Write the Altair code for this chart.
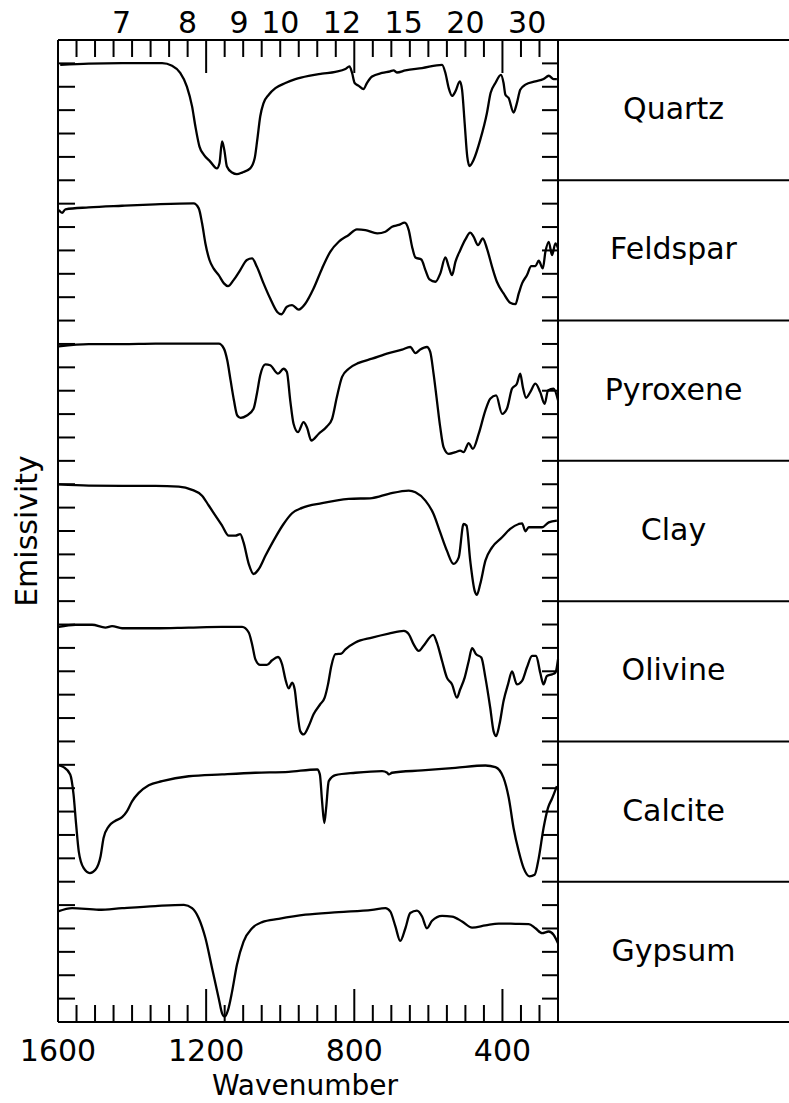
import altair as alt
import pandas as pd

# ---------------- data ----------------
MINERALS = ["Quartz", "Feldspar", "Pyroxene", "Clay", "Olivine", "Calcite", "Gypsum"]

# emissivity values are given in tick units (0..6) inside each mineral's band
QUARTZ_WN = [1594, 1517, 1427, 1319, 1292, 1270, 1252, 1238, 1229, 1218,
             1206, 1189, 1171, 1164, 1157, 1151, 1144, 1130, 1117, 1103,
             1081, 1069, 1062, 1054, 1045, 1031, 1013, 986, 959, 923,
             887, 851, 824, 813, 806, 799, 788, 775, 766, 752,
             725, 703, 694, 685, 662, 617, 563, 554, 545, 536,
             527, 515, 509, 502, 495, 489, 478, 460, 442, 432,
             419, 404, 397, 392, 383, 370, 361, 352, 338, 311,
             289, 275, 262, 253]
QUARTZ_E = [4.94, 4.99, 5.01, 5.01, 4.9, 4.59, 4.01, 3.16, 2.3, 1.44,
            1.09, 0.8, 0.51, 0.73, 1.66, 1.3, 0.59, 0.33, 0.26, 0.33,
            0.51, 0.94, 1.73, 2.73, 3.3, 3.66, 3.94, 4.16, 4.33, 4.47,
            4.56, 4.64, 4.76, 4.87, 4.59, 4.16, 4.04, 3.9, 4.16, 4.44,
            4.59, 4.66, 4.7, 4.61, 4.7, 4.8, 4.94, 4.59, 3.94, 3.61,
            3.8, 4.23, 3.87, 2.44, 1.01, 0.61, 0.87, 1.73, 2.87, 3.73,
            4.16, 4.51, 4.16, 3.66, 3.51, 2.9, 3.3, 3.87, 4.09, 4.23,
            4.33, 4.47, 4.33, 4.33]

FELDSPAR_WN = [1598, 1589, 1580, 1517, 1427, 1337, 1234, 1220, 1211, 1202,
               1191, 1180, 1166, 1152, 1141, 1126, 1108, 1090, 1076, 1063,
               1045, 1027, 1008, 997, 982, 968, 950, 932, 910, 887,
               865, 842, 815, 793, 770, 738, 716, 698, 680, 664,
               653, 644, 635, 619, 608, 597, 581, 568, 554, 545,
               536, 527, 514, 500, 487, 478, 466, 453, 442, 428,
               415, 397, 379, 365, 356, 347, 334, 322, 311, 302,
               291, 284, 275, 266, 257, 250]
FELDSPAR_E = [4.73, 4.61, 4.76, 4.84, 4.91, 4.97, 5.01, 4.8, 4.16, 3.3,
              2.59, 2.23, 1.94, 1.59, 1.47, 1.73, 2.16, 2.59, 2.66, 2.3,
              1.59, 0.94, 0.37, 0.27, 0.59, 0.66, 0.47, 0.73, 1.37, 2.23,
              2.94, 3.37, 3.66, 3.9, 3.87, 3.73, 3.8, 4.01, 4.09, 4.19,
              3.87, 3.16, 2.7, 2.61, 2.16, 1.76, 1.66, 2.01, 2.7, 2.3,
              1.94, 2.51, 3.01, 3.47, 3.76, 3.59, 3.23, 3.51, 3.09, 2.3,
              1.66, 1.16, 0.76, 0.7, 1.16, 1.59, 1.94, 2.33, 2.33, 2.56,
              2.23, 2.94, 3.37, 2.8, 3.3, 3.09]

PYROXENE_WN = [1598, 1517, 1427, 1337, 1166, 1152, 1143, 1134, 1125, 1116,
               1107, 1090, 1072, 1063, 1054, 1040, 1027, 1006, 991, 982,
               973, 964, 952, 937, 928, 916, 896, 874, 860, 847,
               833, 815, 788, 752, 707, 671, 649, 635, 622, 604,
               595, 586, 577, 568, 559, 545, 527, 514, 505, 491,
               480, 464, 446, 433, 417, 401, 388, 374, 361, 352,
               345, 336, 325, 311, 298, 286, 277, 262, 250]
PYROXENE_E = [4.9, 4.99, 4.99, 5.01, 5.01, 4.8, 4.3, 3.44, 2.59, 1.94,
              1.84, 1.94, 2.23, 2.87, 3.66, 4.13, 4.09, 3.73, 3.94, 3.8,
              2.59, 1.59, 1.23, 1.66, 1.44, 0.87, 1.16, 1.47, 1.8, 2.73,
              3.59, 3.94, 4.19, 4.37, 4.61, 4.76, 4.87, 4.61, 4.76, 4.87,
              4.66, 3.73, 2.59, 1.44, 0.59, 0.3, 0.37, 0.44, 0.37, 0.76,
              0.51, 1.16, 2.16, 2.66, 2.8, 2.01, 2.23, 3.09, 3.3, 3.73,
              3.16, 2.7, 2.94, 3.3, 2.94, 2.44, 3.01, 3.09, 2.59]

CLAY_WN = [1598, 1517, 1427, 1337, 1274, 1238, 1211, 1193, 1175, 1157,
           1139, 1121, 1108, 1099, 1085, 1072, 1058, 1040, 1013, 991,
           968, 941, 887, 815, 752, 707, 653, 635, 608, 586,
           568, 550, 532, 518, 505, 497, 487, 475, 469, 460,
           446, 428, 401, 379, 356, 347, 338, 329, 293, 275,
           253]
CLAY_E = [4.99, 4.94, 4.93, 4.93, 4.9, 4.76, 4.51, 4.09, 3.66, 3.23,
          2.8, 2.8, 2.87, 2.51, 1.59, 1.16, 1.37, 1.94, 2.73, 3.3,
          3.76, 3.99, 4.19, 4.37, 4.41, 4.59, 4.73, 4.66, 4.3, 3.73,
          2.94, 2.16, 1.59, 1.87, 3.3, 3.23, 1.73, 0.44, 0.27, 0.73,
          1.73, 2.3, 2.73, 3.09, 3.3, 3.33, 2.99, 3.16, 3.16, 3.37,
          3.44]

OLIVINE_WN = [1598, 1553, 1508, 1472, 1454, 1427, 1337, 1247, 1157, 1103,
              1085, 1076, 1067, 1054, 1036, 1022, 1006, 995, 986, 977,
              968, 961, 955, 946, 937, 923, 910, 892, 880, 871,
              862, 851, 835, 824, 797, 752, 707, 666, 653, 640,
              626, 613, 587, 577, 563, 550, 536, 523, 514, 502,
              491, 482, 471, 457, 446, 433, 424, 417, 408, 397,
              385, 374, 361, 347, 334, 320, 309, 298, 289, 280,
              266, 257, 250]
OLIVINE_E = [4.9, 4.99, 4.99, 4.87, 4.93, 4.84, 4.84, 4.87, 4.9, 4.9,
             4.66, 4.16, 3.51, 3.27, 3.27, 3.47, 3.61, 3.3, 2.66, 2.27,
             2.51, 2.23, 1.44, 0.44, 0.3, 0.66, 1.16, 1.59, 1.87, 2.44,
             3.23, 3.73, 3.76, 3.94, 4.23, 4.44, 4.61, 4.73, 4.59, 4.16,
             3.87, 4.09, 4.56, 4.23, 3.44, 2.73, 2.44, 1.87, 2.23, 2.73,
             3.44, 3.99, 3.73, 3.59, 2.73, 1.44, 0.44, 0.23, 0.73, 1.73,
             2.44, 2.99, 2.44, 2.59, 3.16, 3.66, 3.66, 2.94, 2.44, 2.8,
             2.87, 2.94, 3.51]

CALCITE_WN = [1600, 1585, 1567, 1558, 1551, 1544, 1531, 1514, 1499, 1485,
              1477, 1463, 1445, 1427, 1414, 1400, 1382, 1355, 1319, 1247,
              1157, 1067, 977, 900, 893, 887, 881, 876, 869, 851,
              797, 725, 711, 707, 698, 617, 527, 446, 419, 397,
              383, 370, 356, 343, 327, 313, 302, 289, 277, 266,
              253]
CALCITE_E = [4.99, 4.9, 4.59, 3.73, 2.44, 1.3, 0.59, 0.37, 0.51, 1.09,
             1.87, 2.37, 2.61, 2.76, 3.01, 3.44, 3.8, 4.13, 4.3, 4.51,
             4.59, 4.66, 4.7, 4.8, 4.59, 3.44, 2.51, 3.16, 4.3, 4.56,
             4.66, 4.73, 4.66, 4.59, 4.66, 4.76, 4.87, 4.97, 4.9, 4.44,
             3.59, 2.3, 1.3, 0.59, 0.23, 0.3, 1.01, 2.3, 3.16, 3.56,
             4.09]

GYPSUM_WN = [1600, 1562, 1490, 1427, 1337, 1260, 1238, 1220, 1202, 1184,
             1166, 1157, 1150, 1141, 1130, 1117, 1099, 1076, 1049, 1004,
             932, 842, 752, 716, 703, 689, 676, 662, 649, 631,
             617, 604, 590, 563, 536, 509, 482, 446, 410, 365,
             329, 311, 293, 275, 262, 250]
GYPSUM_E = [4.73, 4.87, 4.8, 4.87, 4.96, 5.01, 4.87, 4.44, 3.59, 2.3,
            1.01, 0.37, 0.23, 0.51, 1.3, 2.44, 3.44, 4.01, 4.27, 4.41,
            4.59, 4.7, 4.8, 4.87, 4.73, 4.09, 3.47, 4.01, 4.66, 4.76,
            4.51, 4.01, 4.33, 4.54, 4.51, 4.3, 4.04, 4.13, 4.21, 4.2,
            4.19, 4.01, 3.8, 3.87, 3.73, 3.37]

SPECTRA = {
    "Quartz": (QUARTZ_WN, QUARTZ_E),
    "Feldspar": (FELDSPAR_WN, FELDSPAR_E),
    "Pyroxene": (PYROXENE_WN, PYROXENE_E),
    "Clay": (CLAY_WN, CLAY_E),
    "Olivine": (OLIVINE_WN, OLIVINE_E),
    "Calcite": (CALCITE_WN, CALCITE_E),
    "Gypsum": (GYPSUM_WN, GYPSUM_E),
}

BOTTOM_LABELS = [1600, 1200, 800, 400]
MAJOR_TICKS = [1200, 800, 400]
MINOR_TICKS = [w for w in range(1550, 299, -50) if w not in MAJOR_TICKS]
WAVELENGTHS = [7, 8, 9, 10, 12, 15, 20, 30]
BAND = 6  # tick intervals per mineral band
N = len(MINERALS)
Y_TICKS = list(range(1, N * BAND))

# ---------------- build tables ----------------
rows = []
for i, name in enumerate(MINERALS):
    wn, em = SPECTRA[name]
    off = (N - 1 - i) * BAND
    for k, (w, v) in enumerate(zip(wn, em)):
        rows.append({"mineral": name, "wn": w, "y": off + v, "k": k})
spec = pd.DataFrame(rows)

W_PLOT, W_PANEL, H = 500, 231, 982
FONT = "DejaVu Sans"
SW = 2

xs = alt.Scale(domain=[1600, 250], range=[0, W_PLOT])
ps = alt.Scale(domain=[0, 1], range=[W_PLOT, W_PLOT + W_PANEL])
ys = alt.Scale(domain=[0, N * BAND])

lines = alt.Chart(spec).mark_line(color="black", strokeWidth=2.3, interpolate="monotone").encode(
    x=alt.X("wn:Q", scale=xs, axis=None),
    y=alt.Y("y:Q", scale=ys, axis=None),
    detail="mineral:N",
    order="k:Q",
)

frame_v = alt.Chart(pd.DataFrame({"wn": [1600, 250]})).mark_rule(color="black", strokeWidth=SW).encode(
    x=alt.X("wn:Q", scale=xs, axis=None), y=alt.value(0), y2=alt.value(H)
)
frame_h = alt.Chart(pd.DataFrame({"y": [0, N * BAND], "a": [1600, 1600], "b": [250, 250]})).mark_rule(
    color="black", strokeWidth=SW
).encode(x=alt.X("a:Q", scale=xs, axis=None), x2="b:Q", y=alt.Y("y:Q", scale=ys, axis=None))

bounds = [i * BAND for i in range(N + 1)]
panel_lines = alt.Chart(pd.DataFrame({"y": bounds, "a": [0] * len(bounds), "b": [1] * len(bounds)})).mark_rule(
    color="black", strokeWidth=SW
).encode(x=alt.X("a:Q", scale=ps, axis=None), x2="b:Q", y=alt.Y("y:Q", scale=ys, axis=None))

panel_text = alt.Chart(pd.DataFrame({
    "mineral": MINERALS,
    "yc": [(N - 1 - i) * BAND + BAND / 2 for i in range(N)],
    "p": [0.5] * N,
})).mark_text(font=FONT, fontSize=30, color="black", baseline="middle", align="center").encode(
    x=alt.X("p:Q", scale=ps, axis=None), y=alt.Y("yc:Q", scale=ys, axis=None), text="mineral:N"
)

ydf = pd.DataFrame({"y": Y_TICKS})
left_ticks = alt.Chart(ydf).mark_rule(color="black", strokeWidth=SW).encode(
    x=alt.value(0), x2=alt.value(17), y=alt.Y("y:Q", scale=ys, axis=None)
)
right_ticks = alt.Chart(ydf).mark_rule(color="black", strokeWidth=SW).encode(
    x=alt.value(W_PLOT - 16), x2=alt.value(W_PLOT), y=alt.Y("y:Q", scale=ys, axis=None)
)

mindf = pd.DataFrame({"wn": MINOR_TICKS})
majdf = pd.DataFrame({"wn": MAJOR_TICKS})
bot_minor = alt.Chart(mindf).mark_rule(color="black", strokeWidth=SW).encode(
    x=alt.X("wn:Q", scale=xs, axis=None), y=alt.value(H), y2=alt.value(H - 17))
bot_major = alt.Chart(majdf).mark_rule(color="black", strokeWidth=SW).encode(
    x=alt.X("wn:Q", scale=xs, axis=None), y=alt.value(H), y2=alt.value(H - 33))
top_minor = alt.Chart(mindf).mark_rule(color="black", strokeWidth=SW).encode(
    x=alt.X("wn:Q", scale=xs, axis=None), y=alt.value(0), y2=alt.value(17))
top_major = alt.Chart(majdf).mark_rule(color="black", strokeWidth=SW).encode(
    x=alt.X("wn:Q", scale=xs, axis=None), y=alt.value(0), y2=alt.value(33))

bot_labels = alt.Chart(pd.DataFrame({"wn": BOTTOM_LABELS, "t": [str(v) for v in BOTTOM_LABELS]})).mark_text(
    font=FONT, fontSize=30, color="black", baseline="alphabetic", align="center"
).encode(x=alt.X("wn:Q", scale=xs, axis=None), y=alt.value(H + 39), text="t:N")

top_labels = alt.Chart(pd.DataFrame({
    "wn": [10000.0 / l for l in WAVELENGTHS], "t": [str(l) for l in WAVELENGTHS]
})).mark_text(font=FONT, fontSize=30, color="black", baseline="alphabetic", align="center").encode(
    x=alt.X("wn:Q", scale=xs, axis=None), y=alt.value(-7), text="t:N")

x_title = alt.Chart(pd.DataFrame({"t": ["Wavenumber"]})).mark_text(
    font=FONT, fontSize=28, color="black", baseline="alphabetic", align="center"
).encode(x=alt.value(W_PLOT / 2 - 3), y=alt.value(H + 73), text="t:N")

y_title = alt.Chart(pd.DataFrame({"t": ["Emissivity"]})).mark_text(
    font=FONT, fontSize=30, color="black", baseline="alphabetic", align="center", angle=270
).encode(x=alt.value(-21), y=alt.value(H / 2), text="t:N")

chart = alt.layer(
    lines, frame_v, frame_h, panel_lines, panel_text,
    left_ticks, right_ticks, bot_minor, bot_major, top_minor, top_major,
    bot_labels, top_labels, x_title, y_title,
).resolve_scale(x="independent").properties(
    width=W_PLOT + W_PANEL,
    height=H,
    autosize=alt.AutoSizeParams(type="none"),
    padding={"left": 58, "top": 40, "right": 0, "bottom": 81},
    background="white",
).configure_view(stroke=None)

chart.save("out.html", embed_options={"renderer": "svg", "actions": False})
